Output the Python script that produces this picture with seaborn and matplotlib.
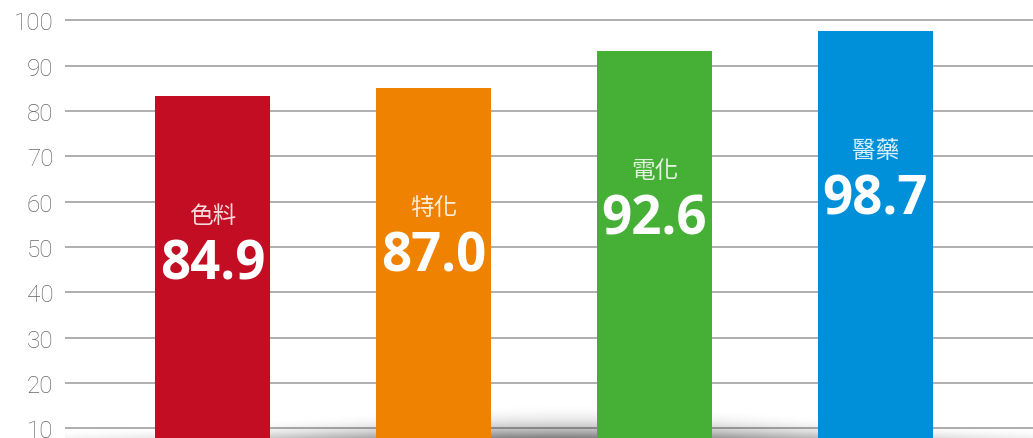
import matplotlib
matplotlib.use("Agg")
import matplotlib.pyplot as plt
import seaborn as sns
import numpy as np

# data
categories = ["色料", "特化", "電化", "醫藥"]
bar_heights = [83.3, 85.1, 93.2, 97.6]
scores = ["84.9", "87.0", "92.6", "98.7"]
colors = ["#C30D23", "#EF8200", "#45B035", "#0090DA"]
yticks = [10, 20, 30, 40, 50, 60, 70, 80, 90, 100]

sns.set_style("white")

fig = plt.figure(figsize=(10.33, 4.39), dpi=100)
ax = fig.add_axes([65 / 1033, 0, 968 / 1033, 1])

sns.barplot(x=categories, y=bar_heights, hue=categories, palette=colors,
            legend=False, width=0.52, saturation=1, linewidth=0, ax=ax, zorder=3)

ax.set_xlim(-0.667, 3.713)
ax.set_ylim(7.9, 104.7)
ax.set_yticks(yticks)
ax.set_xticks([])
ax.set_xlabel("")
ax.set_ylabel("")
ax.yaxis.grid(True, color="#a8a8a8", linewidth=1.3, zorder=0)
ax.set_axisbelow(True)
for s in ax.spines.values():
    s.set_visible(False)
ax.tick_params(axis="y", length=0, pad=8.5, labelsize=17.5, labelcolor="#666666")
for lab in ax.get_yticklabels():
    lab.set_fontfamily("Roboto")
    lab.set_fontweight("light")

# soft shadow under the bars
ny, nx = 80, 500
yy = np.linspace(0, 1, ny)[:, None]
xx = np.linspace(0, 1, nx)[None, :]
g = np.exp(-((xx - 0.52) / 0.33) ** 2)
h = 0.25 + 0.75 * g
alpha = 0.5 * g * np.clip(1 - yy / h, 0, 1) ** 2.5
img = np.zeros((ny, nx, 4))
img[..., 3] = alpha
ax.imshow(img, extent=(0, 1, 0, 0.085), origin="lower", aspect="auto",
          transform=ax.transAxes, zorder=2, interpolation="bilinear")

# labels inside the bars
for i, (cat, h_, sc) in enumerate(zip(categories, bar_heights, scores)):
    ax.text(i, h_ - 26.3, cat, ha="center", va="center", fontsize=17,
            color="white", alpha=0.85, family=["Noto Sans CJK TC", "DejaVu Sans"],
            fontweight="light", zorder=4)
    ax.text(i, h_ - 37.2, sc, ha="center", va="center", fontsize=38,
            color="white", family="Open Sans", fontweight="bold", zorder=4)

fig.savefig("out.png", dpi=100)
